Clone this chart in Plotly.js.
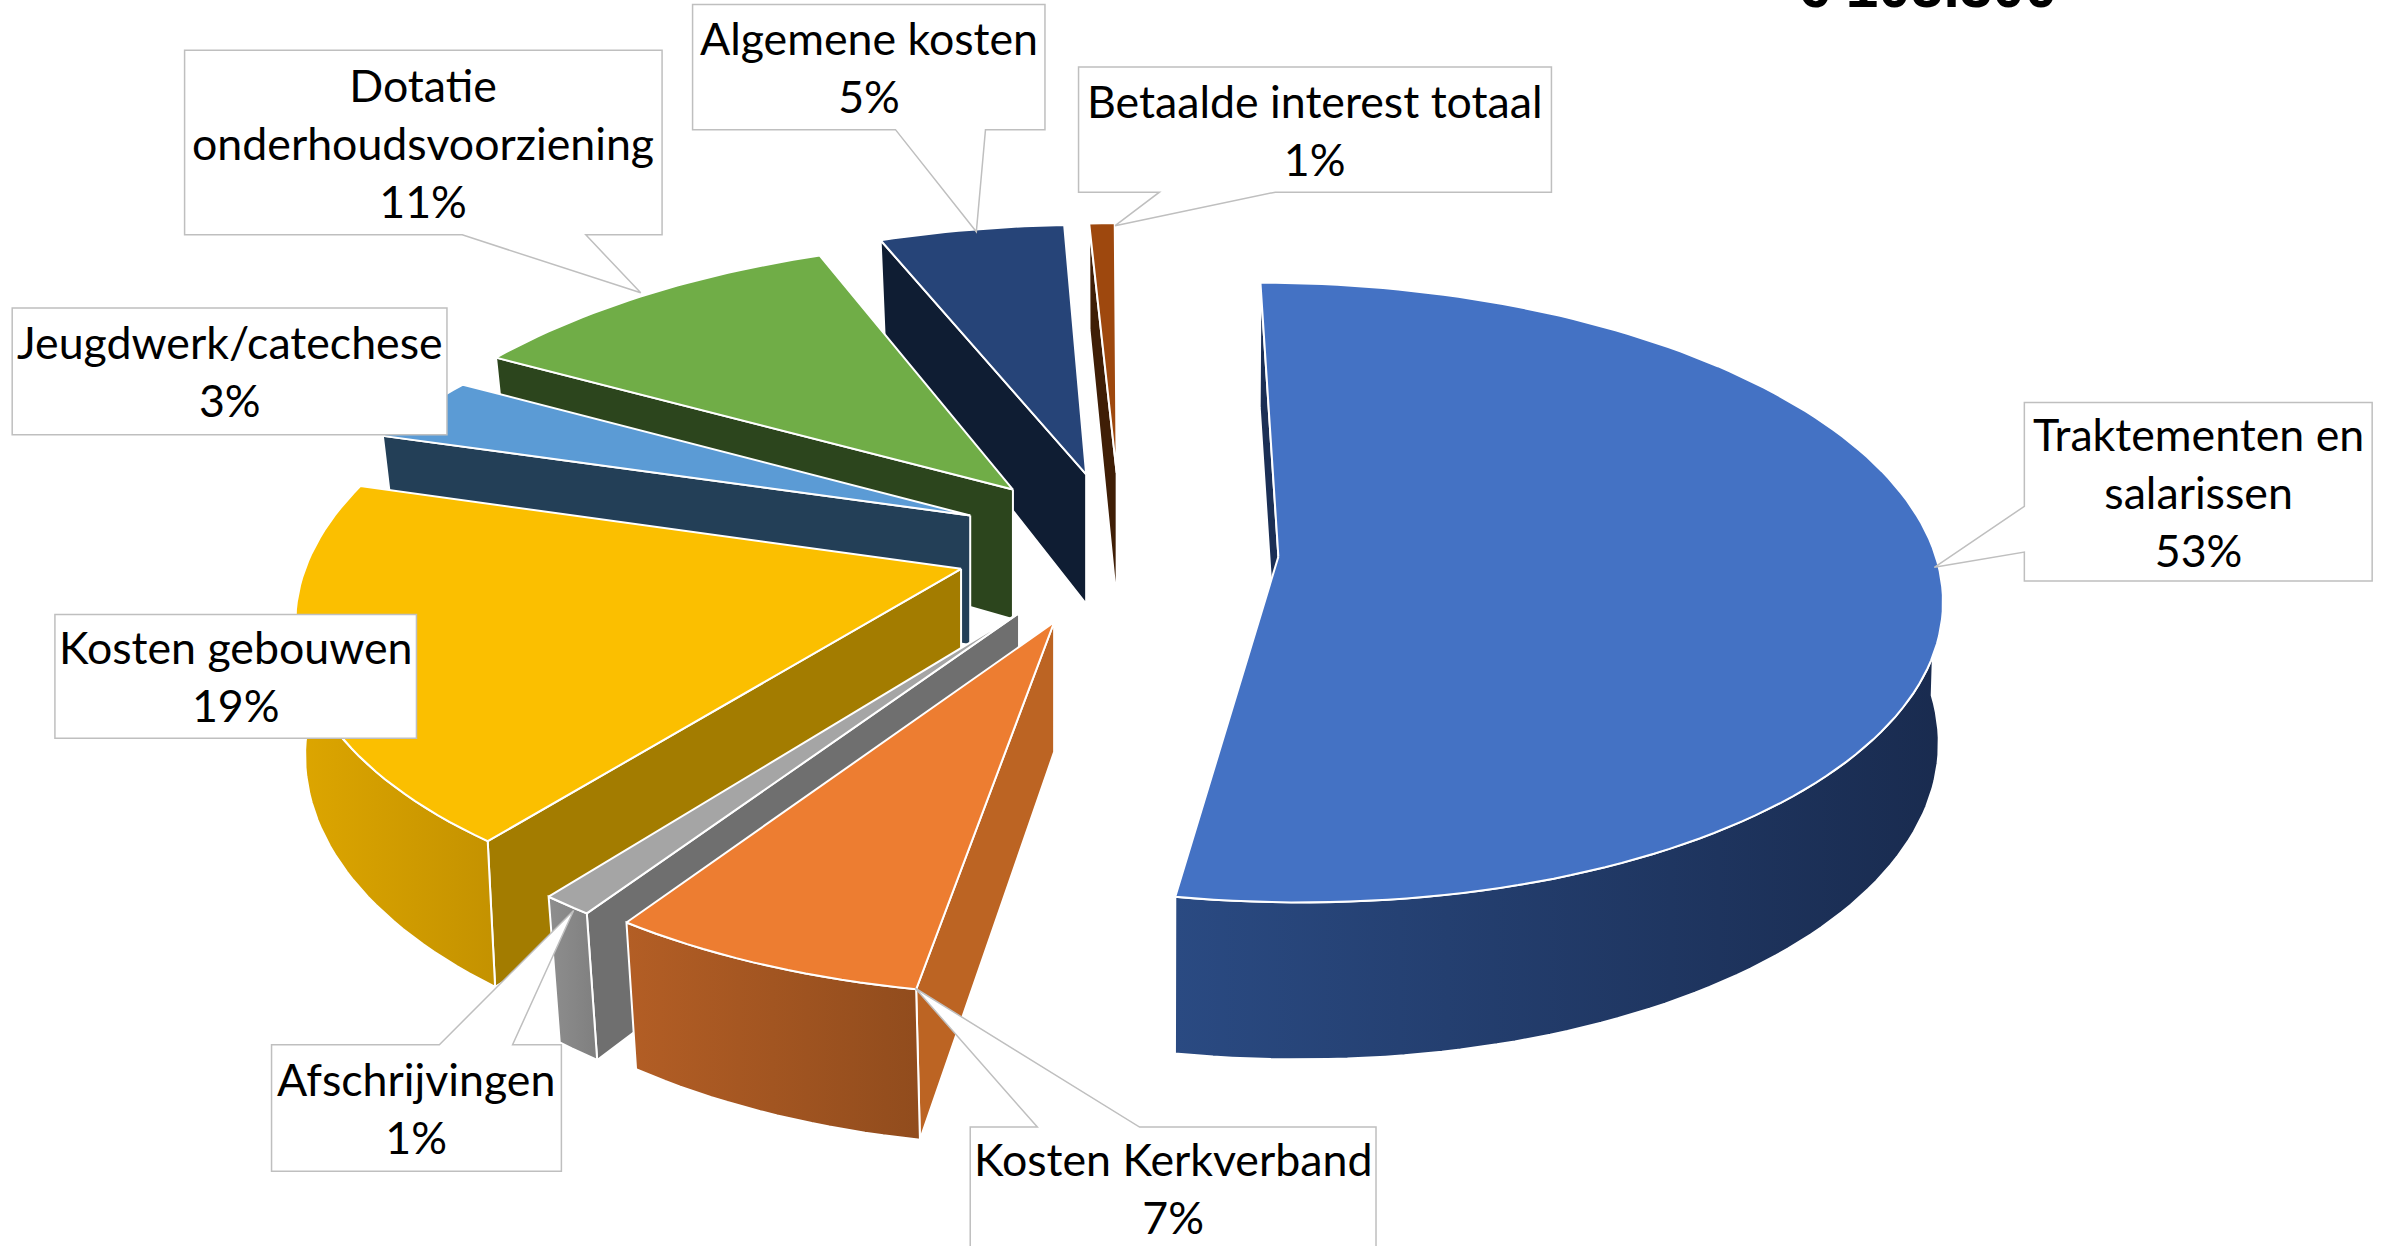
<!DOCTYPE html>
<html><head><meta charset="utf-8">
<script src="https://cdn.plot.ly/plotly-3.0.1.min.js"></script>
<style>html,body{margin:0;padding:0;background:#fff;overflow:hidden}#c{width:2392px;height:1246px}</style>
</head><body><div id="c"></div>
<script>
// ---- data (share of total, %) ----
const categories = ["Traktementen en<br>salarissen","Kosten Kerkverband","Afschrijvingen","Kosten gebouwen","Jeugdwerk/catechese","Dotatie<br>onderhoudsvoorziening","Algemene kosten","Betaalde interest totaal"];
const shares = [52.7,6.8,1.1,18.9,3.45,10.85,5.45,0.75];
const totalLabel = "€ 105.300";

// ---- colours ----
const topColors  = ["#4472C4","#ED7D31","#A5A5A5","#FBBF00","#5B9BD5","#70AD47","#264478","#9E480E"];
const wallColors = ["#1B2F55","#BC6423","#6F6F6F","#A37C00","#233F57","#2C451D","#0F1D33","#3F1E06"];
const rimLeft    = ["#2A4A82","#B35E25","#8E8E8E","#DDA600","#233F57","#2C451D","#0F1D33","#3F1E06"];
const rimRight   = ["#192B4F","#914C1D","#7F7F7F","#C49200","#233F57","#2C451D","#0F1D33","#3F1E06"];

// ---- view of the exploded pie (axis units = 1/1568 of page width) ----
const apexX = [838,691,668,630,636,664,712,732];
const apexY = [365,408,402,373,338,321,311,310];
const radius= [431,434,434,430,434,434,434,434];
const flat  = [0.465,0.485,0.485,0.47,0.46,0.46,0.46,0.46];
const persp = [0.116,0.14,0.14,0.14,0.24,0.22,0.22,0.22];
const depth = [91,85,85,85,85,85,85,85];
const taper = [0.005,0.02,0.02,0.012,0.02,0.02,0.02,0.02];
const VX=725;
const drawOrder=[7,6,5,4,3,2,1,0];

function project(i,a,r,low){
  const rad=a*Math.PI/180, P=1/(1+persp[i]*r*Math.cos(rad));
  const k=low?P*(1-taper[i]*r):P;
  const x=VX+(apexX[i]-VX+r*radius[i]*Math.sin(rad))*k;
  let y=apexY[i]-r*radius[i]*Math.cos(rad)*flat[i]*P;
  if(low) y+=depth[i]*P;
  return [x,y];
}
function arc(i,a1,a2,low){
  const pts=[], n=Math.max(2,Math.ceil(Math.abs(a2-a1)/1.5));
  for(let k=0;k<=n;k++) pts.push(project(i,a1+(a2-a1)*k/n,1,low));
  return pts;
}
function poly(pts,color,grad){
  const t={type:"scatter",mode:"lines",x:pts.map(p=>p[0]),y:pts.map(p=>p[1]),fill:"toself",
    line:{color:"#FFFFFF",width:2},hoverinfo:"skip",showlegend:false,fillcolor:color};
  if(grad) t.fillgradient={type:"horizontal",colorscale:[[0,grad[0]],[1,grad[1]]]};
  return t;
}
const starts=[]; let cum=0;
shares.forEach(v=>{starts.push(cum*3.6);cum+=v;});
const traces=[];
drawOrder.forEach(i=>{
  const a1=starts[i], a2=starts[i]+shares[i]*3.6;
  const inner=project(i,a1,0,false), outer=project(i,a1,1,false), outerL=project(i,a1,1,true), innerL=project(i,a1,0,true);
  traces.push(poly([inner,outer,outerL,innerL,inner],wallColors[i]));
  const r1=Math.max(a1,90), r2=Math.min(a2,270);
  if(r2>r1){
    const rim=arc(i,r1,r2,false).concat(arc(i,r2,r1,true));
    rim.push(rim[0]);
    traces.push(poly(rim,rimLeft[i],[rimLeft[i],rimRight[i]]));
  }
  const top=[inner].concat(arc(i,a1,a2,false)); top.push(inner);
  traces.push(poly(top,topColors[i]));
});

// ---- callouts ----
const boxes=[
 {i:0,x0:1327,y0:264,x1:1555,y1:381,side:"l",b0:332,b1:362,tx:1268,ty:372},
 {i:1,x0:636,y0:739,x1:902,y1:819,side:"t",b0:680,b1:747,tx:600,ty:648},
 {i:2,x0:178,y0:685,x1:368,y1:768,side:"t",b0:288,b1:336,tx:376,ty:597},
 {i:3,x0:36,y0:403,x1:273,y1:484},
 {i:4,x0:8,y0:202,x1:293,y1:285},
 {i:5,x0:121,y0:33,x1:434,y1:154,side:"b",b0:303,b1:384,tx:420,ty:192},
 {i:6,x0:454,y0:3,x1:685,y1:85,side:"b",b0:587,b1:646,tx:640,ty:152},
 {i:7,x0:707,y0:44,x1:1017,y1:126,side:"b",b0:760,b1:836,tx:731,ty:148}
];
const shapes=boxes.map(b=>{
  let p=`M${b.x0},${b.y0}`;
  if(b.side==="t") p+=` L${b.b0},${b.y0} L${b.tx},${b.ty} L${b.b1},${b.y0}`;
  p+=` L${b.x1},${b.y0} L${b.x1},${b.y1}`;
  if(b.side==="b") p+=` L${b.b1},${b.y1} L${b.tx},${b.ty} L${b.b0},${b.y1}`;
  p+=` L${b.x0},${b.y1}`;
  if(b.side==="l") p+=` L${b.x0},${b.b1} L${b.tx},${b.ty} L${b.x0},${b.b0}`;
  p+=" Z";
  return {type:"path",path:p,xref:"x",yref:"y",fillcolor:"#FFFFFF",line:{color:"#BFBFBF",width:1.5},layer:"above"};
});
const labelFont={family:"Lato, 'Open Sans', sans-serif",size:44.7,color:"#000000"};
const annotations=boxes.map(b=>({
  x:(b.x0+b.x1)/2,y:(b.y0+b.y1)/2,xref:"x",yref:"y",xanchor:"center",yanchor:"middle",
  text:categories[b.i]+"<br>"+Math.round(shares[b.i])+"%",showarrow:false,font:labelFont,align:"center"
}));
annotations.push({x:1263,y:14,xref:"x",yref:"y",xanchor:"center",yanchor:"bottom",text:totalLabel,showarrow:false,
  font:{family:"Liberation Sans, sans-serif",size:58.5,color:"#000000",weight:700}});

Plotly.newPlot("c",traces,{
  width:2392,height:1246,margin:{l:0,r:0,t:0,b:0},paper_bgcolor:"#FFFFFF",plot_bgcolor:"#FFFFFF",showlegend:false,
  xaxis:{range:[0,1568],visible:false,fixedrange:true},
  yaxis:{range:[817,0],visible:false,fixedrange:true},
  shapes,annotations
},{displayModeBar:false,staticPlot:true});
</script></body></html>
